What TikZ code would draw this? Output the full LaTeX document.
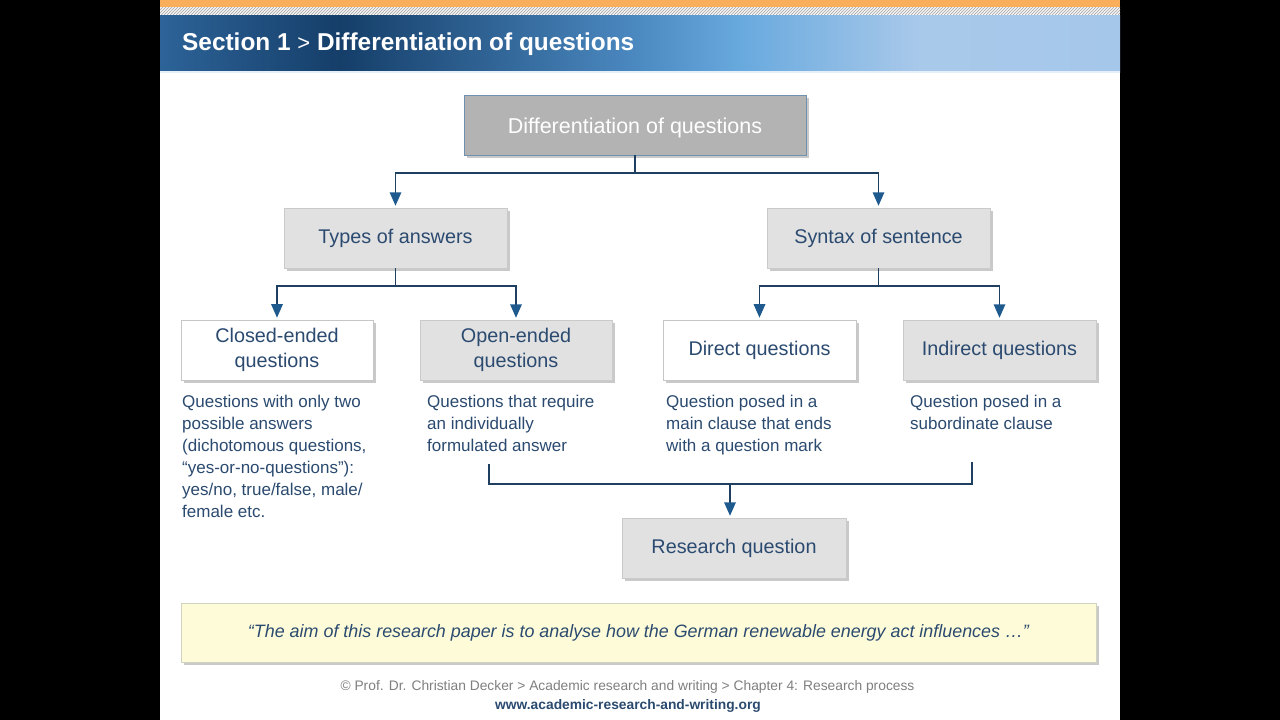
\documentclass[tikz,border=0pt]{standalone}
\usepackage{fontspec}
\setmainfont{Liberation Sans}
\usetikzlibrary{arrows.meta,shadows,calc}
\definecolor{txtblue}{HTML}{2B4A70}
\definecolor{connc}{HTML}{1E3F60}
\definecolor{tipc}{HTML}{1F5A8F}
\definecolor{lgray}{HTML}{E1E1E1}
\definecolor{dgray}{HTML}{B3B3B3}
\definecolor{wborder}{HTML}{C6C6C6}
\definecolor{topborder}{HTML}{7090B0}
\definecolor{yellowf}{HTML}{FEFCD8}
\definecolor{yellowb}{HTML}{D2D2C0}
\definecolor{orangec}{HTML}{F9AE5B}
\definecolor{hA}{HTML}{2D6398}
\definecolor{hB}{HTML}{153E69}
\definecolor{hC}{HTML}{4C8AC2}
\definecolor{hD}{HTML}{68A9DE}
\definecolor{hE}{HTML}{A9C9EA}
\definecolor{hF}{HTML}{A5C7EA}
\definecolor{footg}{HTML}{7F7F7F}
\tikzset{
  boxbase/.style={rectangle, minimum height=60pt, align=center, text=txtblue,
    font=\fontsize{19.8}{25}\selectfont,
    drop shadow={shadow xshift=2.5pt, shadow yshift=-2.5pt, opacity=0.35, fill=black!60}},
  graybox/.style={boxbase, fill=lgray, draw=lgray!90!black, line width=0.4pt},
  whitebox/.style={boxbase, fill=white, draw=wborder, line width=0.6pt},
  topbox/.style={boxbase, fill=dgray, draw=topborder, line width=0.8pt, text=white,
    font=\fontsize{21.5}{24}\selectfont, text height=19pt, text depth=2pt},
  desc/.style={anchor=north west, align=left, text=txtblue, inner sep=0pt,
    font=\fontsize{17}{22}\selectfont},
  conn/.style={draw=connc, line width=1.5pt},
  arr/.style={conn, -{Triangle[width=11.5pt,length=13.5pt,fill=tipc,color=tipc]}, shorten >=2pt},
  hatchline/.style={draw=black!30, line width=0.9pt},
}
\begin{document}
\begin{tikzpicture}[x=1pt,y=-1pt]
\useasboundingbox (0,0) rectangle (1280,720);
% background
\fill[black] (0,0) rectangle (1280,720);
\fill[white] (160,0) rectangle (1120,720);
% orange and hatched top bars
\fill[orangec] (160,0) rectangle (1120,7);
\begin{scope}
  \clip (160,7.5) rectangle (1120,15);
  \foreach \i in {152,155,...,1122} {
    \draw[hatchline] (\i,15) -- (\i+8,7);
  }
\end{scope}
% header gradient
\shade[left color=hA, right color=hB] (160,15) rectangle (341,72);
\shade[left color=hB, right color=hC] (340,15) rectangle (641,72);
\shade[left color=hC, right color=hD] (640,15) rectangle (741,72);
\shade[left color=hD, right color=hE] (740,15) rectangle (921,72);
\shade[left color=hE, right color=hF] (920,15) rectangle (1120,72);
\fill[white!70!hE] (160,71) rectangle (1120,73);
\node[anchor=base west, text=white, inner sep=0pt, font=\fontsize{24.4}{28}\selectfont]
  (title) at (182,50) {\textbf{Section 1} {\fontsize{22}{26}\selectfont >} \textbf{Differentiation of questions}};
% nodes
\node[topbox, minimum width=342pt] (top) at (635,125) {Differentiation of questions};
\node[graybox, minimum width=223pt] (types) at (395.5,238) {Types of answers};
\node[graybox, minimum width=223pt] (syntax) at (878.5,238) {Syntax of sentence};
\node[whitebox, minimum width=192pt] (closed) at (277,350) {Closed-ended\\questions};
\node[graybox, minimum width=192pt] (open) at (516,350) {Open-ended\\questions};
\node[whitebox, minimum width=193pt] (direct) at (759.5,350) {Direct questions};
\node[graybox, minimum width=193pt] (indirect) at (999.5,350) {Indirect questions};
\node[graybox, minimum width=224pt] (rq) at (734,548) {Research question};
% descriptions
\node[desc] (dclosed) at (182,395) {Questions with only two\\possible answers\\(dichotomous questions,\\“yes-or-no-questions”):\\yes/no, true/false, male/\\female etc.};
\node[desc] (dopen) at (427,395) {Questions that require\\an individually\\formulated answer};
\node[desc] (ddirect) at (666,395) {Question posed in a\\main clause that ends\\with a question mark};
\node[desc] (dindirect) at (910,395) {Question posed in a\\subordinate clause};
% connectors
\coordinate (j1) at (635,173);
\draw[conn] (top.south) -- (j1);
\draw[arr] (j1) -| (types.north);
\draw[arr] (j1) -| (syntax.north);
\coordinate (j2) at (395.5,286);
\draw[conn] (types.south) -- (j2);
\draw[arr] (j2) -| (closed.north);
\draw[arr] (j2) -| (open.north);
\coordinate (j3) at (878.5,286);
\draw[conn] (syntax.south) -- (j3);
\draw[arr] (j3) -| (direct.north);
\draw[arr] (j3) -| (indirect.north);
\coordinate (bl) at (489,464);
\coordinate (br) at (972,462);
\coordinate (bm) at (730,484);
\draw[conn] (bl) |- (bm) -| (br);
\draw[arr] (bm) -- (bm |- rq.north);
% quote box
\node[rectangle, fill=yellowf, draw=yellowb, line width=0.6pt, minimum width=915pt, minimum height=59pt,
  drop shadow={shadow xshift=2.5pt, shadow yshift=-2.5pt, opacity=0.35, fill=black!60},
  text=txtblue, font=\fontsize{17.9}{20}\selectfont\itshape] (quote) at (638.5,632.5)
  {“The aim of this research paper is to analyse how the German renewable energy act influences …”};
% footer
\node[text=footg, inner sep=0pt, font=\fontsize{13.8}{16}\selectfont] (foot1) at (627.5,687)
  {© Prof. Dr. Christian Decker > Academic research and writing > Chapter 4: Research process};
\node[text=txtblue, inner sep=0pt, font=\fontsize{13.8}{16}\selectfont\bfseries] (foot2) at (628,706)
  {www.academic-research-and-writing.org};
\end{tikzpicture}
\end{document}
